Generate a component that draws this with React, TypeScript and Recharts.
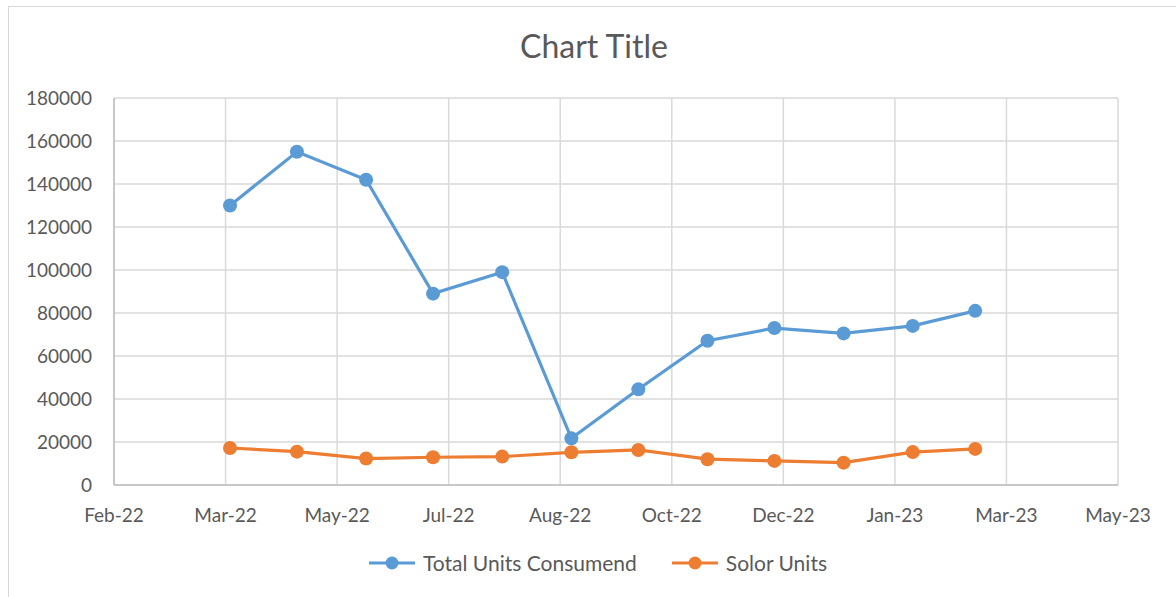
import React from 'react';
import { CartesianGrid, Line, LineChart, XAxis, YAxis } from 'recharts';

const DAY = 86400000;

// month-end readings, Mar-22 .. Feb-23
const dates = [
  '2022-03-31', '2022-04-30', '2022-05-31', '2022-06-30', '2022-07-31', '2022-08-31',
  '2022-09-30', '2022-10-31', '2022-11-30', '2022-12-31', '2023-01-31', '2023-02-28',
];
const totalUnits = [130000, 155000, 142000, 89000, 99000, 21700, 44500, 67100, 73000, 70500, 74000, 81000];
const solarUnits = [17200, 15500, 12300, 12900, 13200, 15200, 16300, 12000, 11200, 10400, 15300, 16800];

const yTicks = [0, 20000, 40000, 60000, 80000, 100000, 120000, 140000, 160000, 180000];
// Excel date axis: starts 7-Feb-22, major unit 50 days
const axisStart = Date.UTC(2022, 1, 7);
const xTicks = [0, 1, 2, 3, 4, 5, 6, 7, 8, 9].map((i) => axisStart + i * 50 * DAY);

const MONTHS = ['Jan', 'Feb', 'Mar', 'Apr', 'May', 'Jun', 'Jul', 'Aug', 'Sep', 'Oct', 'Nov', 'Dec'];
const fmtDate = (t: number) => {
  const d = new Date(t);
  return `${MONTHS[d.getUTCMonth()]}-${String(d.getUTCFullYear()).slice(2)}`;
};

const chartData = dates.map((d, i) => ({
  t: Date.parse(d + 'T00:00:00Z'),
  total: totalUnits[i],
  solar: solarUnits[i],
}));

const BLUE = '#5B9BD5';
const ORANGE = '#ED7D31';
const TEXT = '#595959';
const FONT = 'Lato, "Open Sans", sans-serif';

const legendItems = [
  { label: 'Total Units Consumend', color: BLUE },
  { label: 'Solor Units', color: ORANGE },
];

function ExcelLegend() {
  return (
    <div style={{ display: 'flex', justifyContent: 'center', gap: 35, fontFamily: FONT, fontSize: 21, color: TEXT }}>
      {legendItems.map((it) => (
        <div key={it.label} style={{ display: 'flex', alignItems: 'center', gap: 8 }}>
          <svg width={46} height={16}>
            <line x1={0} y1={8} x2={46} y2={8} stroke={it.color} strokeWidth={3} />
            <circle cx={23} cy={8} r={6.5} fill={it.color} />
          </svg>
          <span>{it.label}</span>
        </div>
      ))}
    </div>
  );
}

export default function App() {
  return (
    <div style={{ position: 'absolute', left: 0, top: 0, width: 1176, height: 597, background: '#fff', overflow: 'hidden' }}>
      <div
        style={{
          position: 'absolute',
          left: 8,
          top: 6,
          width: 1180,
          height: 600,
          border: '1px solid #d9d9d9',
          boxSizing: 'border-box',
        }}
      />
      <div
        style={{
          position: 'absolute',
          left: 0,
          top: 26,
          width: 1188,
          textAlign: 'center',
          fontFamily: FONT,
          fontSize: 32,
          color: TEXT,
          lineHeight: '40px',
        }}
      >
        Chart Title
      </div>
      <div style={{ position: 'absolute', left: 0, top: 0 }}>
        <LineChart width={1176} height={597} data={chartData} margin={{ top: 98, right: 58, bottom: 82, left: 0 }}>
          <CartesianGrid stroke="#d9d9d9" strokeWidth={1.5} />
          <XAxis
            dataKey="t"
            type="number"
            scale="time"
            height={30}
            domain={[xTicks[0], xTicks[xTicks.length - 1]]}
            ticks={xTicks}
            tickFormatter={fmtDate}
            tickLine={false}
            tickSize={0}
            tickMargin={24}
            axisLine={{ stroke: '#bfbfbf', strokeWidth: 1.5 }}
            tick={{ fill: TEXT, fontSize: 19, fontFamily: FONT }}
            interval={0}
            allowDataOverflow
          />
          <YAxis
            width={114}
            domain={[0, 180000]}
            ticks={yTicks}
            tickLine={false}
            tickSize={0}
            tickMargin={22}
            axisLine={{ stroke: '#bfbfbf', strokeWidth: 1.5 }}
            tick={{ fill: TEXT, fontSize: 19, fontFamily: FONT }}
            interval={0}
          />
          <Line
            dataKey="total"
            name="Total Units Consumend"
            stroke={BLUE}
            strokeWidth={3.2}
            dot={{ r: 7, fill: BLUE, stroke: BLUE, strokeWidth: 0 }}
            activeDot={false}
            isAnimationActive={false}
          />
          <Line
            dataKey="solar"
            name="Solor Units"
            stroke={ORANGE}
            strokeWidth={3.2}
            dot={{ r: 7, fill: ORANGE, stroke: ORANGE, strokeWidth: 0 }}
            activeDot={false}
            isAnimationActive={false}
          />
        </LineChart>
      </div>
      <div style={{ position: 'absolute', left: 0, top: 550, width: 1196 }}>
        <ExcelLegend />
      </div>
    </div>
  );
}
